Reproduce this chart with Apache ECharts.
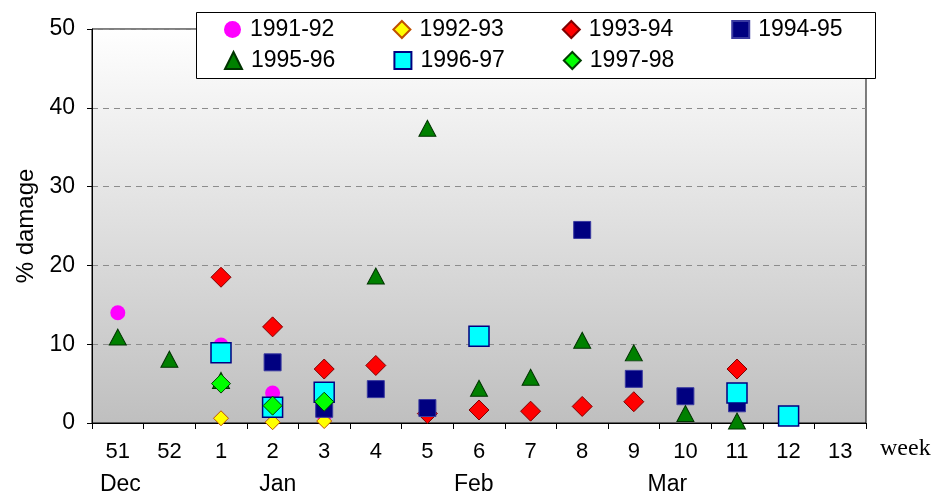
<!DOCTYPE html>
<html>
<head>
<meta charset="utf-8">
<script src="https://cdn.jsdelivr.net/npm/echarts@6/dist/echarts.min.js"></script>
<style>html,body{margin:0;padding:0;background:#fff}#c{width:935px;height:500px}</style>
</head>
<body>
<div id="c"></div>
<script>
const weeks = ['51','52','1','2','3','4','5','6','7','8','9','10','11','12','13'];
const monthNames = ['Dec','Jan','Feb','Mar'];
const monthAt = [0.55, 3.6, 7.4, 11.15];
const yTicks = [0, 10, 20, 30, 40, 50];
const seriesNames = ['1991-92','1992-93','1993-94','1994-95','1995-96','1996-97','1997-98'];
const s9192 = [14.0, null, 9.9, 3.8, 1.0, null, null, null, null, null, null, null, null, null, null];
const s9293 = [null, null, 0.6, 0.1, 0.25, null, null, null, null, null, null, null, null, null, null];
const s9394 = [null, null, 18.5, 12.2, 6.85, 7.3, 1.2, 1.65, 1.5, 2.1, 2.7, null, 6.85, null, null];
const s9495 = [null, null, null, 7.7, 1.8, 4.3, 1.9, null, null, 24.5, 5.6, 3.4, 2.5, null, null];
const s9596 = [10.9, 8.1, 5.4, null, null, 18.65, 37.4, 4.4, 5.8, 10.5, 8.9, 1.2, 0.25, null, null];
const s9697 = [null, null, 8.9, 2.0, 3.9, null, null, 11.0, null, null, null, null, 3.8, 0.9, null];
const s9798 = [null, null, 5.0, 2.2, 2.7, null, null, null, null, null, null, null, null, null, null];

const allValues = [s9192, s9293, s9394, s9495, s9596, s9697, s9798];
const styles = [
  {symbol:'circle', size:15, color:'#ff00ff', border:'#ff00ff', bw:0},
  {symbol:'diamond', size:15, color:'#ffff00', border:'#c05000', bw:1},
  {symbol:'diamond', size:20, color:'#ff0000', border:'#800000', bw:1},
  {symbol:'rect', size:17, color:'#000080', border:'#3a3aa0', bw:1},
  {symbol:'triangle', size:[17,16], color:'#008000', border:'#003300', bw:1},
  {symbol:'rect', size:20, color:'#00ffff', border:'#000080', bw:1.5},
  {symbol:'diamond', size:19, color:'#00ff00', border:'#004000', bw:1}
];

const chart = echarts.init(document.getElementById('c'), null, {renderer:'canvas'});
const FONT = 'Liberation Sans, Arial, sans-serif';

const series = allValues.map((vals, i) => ({
  name: seriesNames[i],
  type: 'scatter',
  xAxisIndex: 0,
  symbol: styles[i].symbol,
  symbolSize: styles[i].size,
  itemStyle: {color: styles[i].color, borderColor: styles[i].border, borderWidth: styles[i].bw, opacity: 1},
  emphasis: {disabled: true},
  data: vals
}));

const legendCommon = {
  left: 224,
  itemGap: 58,
  itemWidth: 17,
  itemHeight: 17,
  z: 20,
  selectedMode: false,
  textStyle: {fontFamily: FONT, fontSize: 23, color: '#000', padding: [0,0,0,4]},
  padding: 0
};

chart.setOption({
  animation: false,
  backgroundColor: '#ffffff',
  grid: {
    left: 92, right: 69, top: 29, bottom: 77,
    show: true,
    borderColor: '#000', borderWidth: 1,
    backgroundColor: new echarts.graphic.LinearGradient(0, 0, 0, 1, [
      {offset: 0, color: '#ffffff'},
      {offset: 1, color: '#bfbfbf'}
    ])
  },
  graphic: [{
    type: 'rect', left: 196, top: 12, z: 10,
    shape: {width: 679, height: 66},
    style: {fill: '#ffffff', stroke: '#000', lineWidth: 1}
  }],
  legend: [
    Object.assign({}, legendCommon, {top: 18, data: seriesNames.slice(0, 4)}),
    Object.assign({}, legendCommon, {top: 49, data: seriesNames.slice(4)})
  ],
  xAxis: [{
    type: 'category',
    data: weeks,
    boundaryGap: true,
    name: 'week',
    nameLocation: 'end',
    nameGap: 14,
    nameTextStyle: {fontFamily: 'Liberation Serif, Times New Roman, serif', fontSize: 24, color: '#000', verticalAlign: 'top', padding: [14,0,0,0]},
    axisLine: {lineStyle: {color: '#000', width: 1}},
    axisTick: {show: true, inside: false, length: 6, alignWithLabel: false, lineStyle: {color: '#000'}},
    axisLabel: {fontFamily: FONT, fontSize: 22, color: '#000', margin: 18, interval: 0},
    splitLine: {show: false}
  }, {
    type: 'value',
    min: 0, max: weeks.length,
    position: 'bottom',
    offset: 32,
    axisLine: {show: false},
    axisTick: {show: false},
    splitLine: {show: false},
    axisLabel: {
      fontFamily: FONT, fontSize: 23, color: '#000', margin: 18,
      customValues: monthAt,
      formatter: function (v) {
        const k = monthAt.findIndex(m => Math.abs(m - v) < 1e-6);
        return k >= 0 ? monthNames[k] : '';
      }
    }
  }],
  yAxis: {
    type: 'value',
    min: yTicks[0], max: yTicks[yTicks.length - 1], interval: 10,
    name: '% damage',
    nameLocation: 'middle',
    nameGap: 54,
    nameRotate: 90,
    nameTextStyle: {fontFamily: FONT, fontSize: 24, color: '#000'},
    axisLine: {show: true, lineStyle: {color: '#000', width: 1}},
    axisTick: {show: true, inside: false, length: 5, lineStyle: {color: '#000'}},
    axisLabel: {fontFamily: FONT, fontSize: 23, color: '#000', margin: 17},
    splitLine: {show: true, lineStyle: {color: '#8c8c8c', type: [6, 5], width: 1}}
  },
  series: series
});
</script>
</body>
</html>
